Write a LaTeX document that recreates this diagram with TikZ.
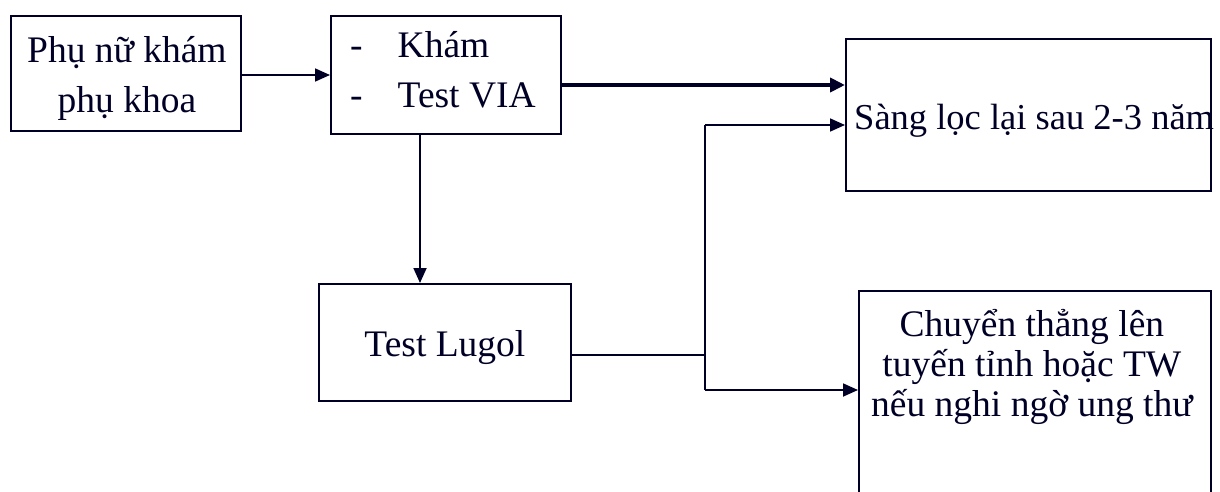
\documentclass[tikz,border=0pt]{standalone}
\usepackage{fontspec}
\setmainfont{Liberation Serif}
\usetikzlibrary{arrows.meta,calc}
\begin{document}
\begin{tikzpicture}[x=1pt,y=-1pt,
  box/.style={draw=black!85!blue, line width=1.8pt, inner sep=0pt, anchor=north west},
  txt/.style={font=\fontsize{37.5}{50}\selectfont, text=black!85!blue, align=center, inner sep=0pt},
  conn/.style={draw=black!85!blue, line width=1.8pt},
  arr/.style={conn, -{Triangle[length=15pt,width=13pt]}},
  thickarr/.style={draw=black!85!blue, line width=3.8pt, -{Triangle[length=15pt,width=14pt]}}]
\useasboundingbox (0,0) rectangle (1220,492);
% boxes
\node[box, minimum width=230pt, minimum height=115pt] (b1) at (10,15) {};
\node[txt] (b1t) at ($(b1.center)+(1,5)$) {Phụ nữ khám\\phụ khoa};
\node[box, minimum width=230pt, minimum height=118pt] (b2) at (330,15) {};
\node[txt, align=left, anchor=west] (b2t) at ($(b2.west)+(20,-5)$) {-\hspace{35pt}Khám\\-\hspace{35pt}Test VIA};
\node[box, minimum width=365pt, minimum height=152pt] (b3) at (845,38) {};
\node[txt, anchor=west, font=\fontsize{36.5}{44}\selectfont] (b3t) at ($(b3.west)+(9,6)$) {Sàng lọc lại sau 2-3 năm};
\node[box, minimum width=252pt, minimum height=117pt] (b4) at (318,283) {};
\node[txt] (b4t) at ($(b4.center)+(0,5)$) {Test Lugol};
\node[box, minimum width=352pt, minimum height=215pt] (b5) at (858,290) {};
\node[txt, anchor=north, font=\fontsize{37.5}{40}\selectfont] (b5t) at ($(b5.north)+(-3,19)$) {Chuyển thẳng lên\\tuyến tỉnh hoặc TW\\nếu nghi ngờ ung thư};
% junctions
\coordinate (j0) at (705,355);
\coordinate (j1) at (705,125);
\coordinate (j2) at (705,390);
\coordinate (t0) at (0,85);
% connectors
\draw[arr] (b1.east |- 0,75) -- (b2.west |- 0,75);
\draw[thickarr] (b2.east |- t0) -- (b3.west |- t0);
\draw[arr] (b2.south -| 420,0) -- (b4.north -| 420,0);
\draw[conn] (b4.east |- j0) -- (j0);
\draw[conn] (j1) -- (j2);
\draw[arr] (j1) -- (b3.west |- j1);
\draw[arr] (j2) -- (b5.west |- j2);
\end{tikzpicture}
\end{document}
